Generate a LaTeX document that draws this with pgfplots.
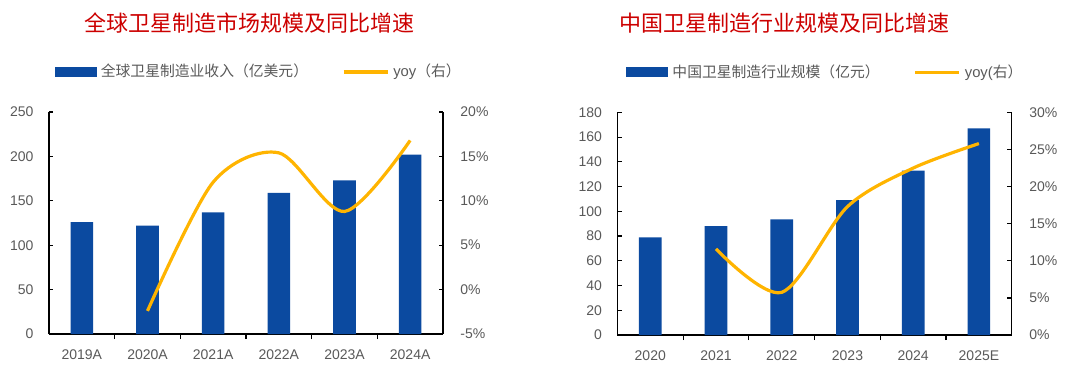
\documentclass[border=0pt]{standalone}
\usepackage{fontspec}
\setmainfont{Liberation Sans}
\newfontfamily\cjk{Noto Sans CJK SC}
\usepackage{pgfplots}
\pgfplotsset{compat=1.18}
\definecolor{barblue}{RGB}{11,74,160}
\definecolor{lineor}{RGB}{255,180,0}
\definecolor{titred}{RGB}{204,0,0}
\definecolor{tickgray}{RGB}{89,89,89}
\pgfplotsset{
  base/.style={scale only axis, xmin=-0.5, xmax=5.5, anchor=south west,
    tick label style={font=\fontsize{7}{8}\selectfont, text=tickgray},
    /pgf/number format/assume math mode=true,
    tick align=inside, major tick length=2.2pt, minor tick length=2.6pt,
    axis line style={black, line width=0.6pt}, tick style={black, line width=0.6pt},
    clip=false},
  barax/.style={base, axis x line*=bottom, axis y line*=left,
    xtick={0,...,5}, minor xtick={0.5,1.5,2.5,3.5,4.5},
    every major x tick/.append style={draw=none},
    yticklabel style={xshift=-4.2pt}, xticklabel style={yshift=-2.3pt},
    ybar, bar width=11.3pt,
    title style={anchor=center, font=\cjk\fontsize{11}{13}\selectfont, text=titred}},
  lineax/.style={base, axis y line*=right, axis x line=none,
    yticklabel={\pgfmathprintnumber{\tick}\%}, yticklabel style={xshift=5.2pt},
    legend columns=2,
    legend style={anchor=center, draw=none, fill=none, font=\cjk\fontsize{7.4}{8.5}\selectfont, text=tickgray,
      /tikz/every even column/.append style={column sep=15pt}},
    legend cell align=left},
  legbar/.style={fill=barblue, draw=none, legend image code/.code={\fill[barblue] (0pt,-2.5pt) rectangle (21pt,2.5pt);}},
  yoyline/.style={lineor, line width=1.6pt, smooth, legend image code/.code={\draw[lineor, line width=1.6pt] (0pt,0pt) -- (22pt,0pt);}},
}
\begin{document}
\begin{tikzpicture}
\path[use as bounding box] (0,0) rectangle (540pt,183pt);
% ---------- Left chart ----------
\begin{axis}[barax, at={(24.5pt,16pt)}, width=197pt, height=111pt,
  ymin=0, ymax=250, ytick={0,50,...,250},
  xticklabels={2019A,2020A,2021A,2022A,2023A,2024A},
  title={全球卫星制造市场规模及同比增速}, title style={at={(0.508,1.345)}}]
\addplot[fill=barblue, draw=none] coordinates {(0,126) (1,122) (2,137) (3,159) (4,173) (5,202)};
\end{axis}
\begin{axis}[lineax, at={(24.5pt,16pt)}, width=197pt, height=111pt,
  ymin=-5, ymax=20, ytick={-5,0,...,20},
  legend style={at={(0.535,1.18)}}]
\addlegendimage{legbar}
\addlegendentry{全球卫星制造业收入（亿美元）}
\addplot[yoyline] coordinates {(1,-2.4) (2,12.1) (3,15.4) (4,8.8) (5,16.8)};
\addlegendentry{{\fontspec{Liberation Sans}yoy}（右）}
\end{axis}
% ---------- Right chart ----------
\begin{axis}[barax, at={(308.7pt,15.5pt)}, width=197.2pt, height=111.3pt,
  ymin=0, ymax=180, ytick={0,20,...,180},
  xticklabels={2020,2021,2022,2023,2024,2025E},
  title={中国卫星制造行业规模及同比增速}, title style={at={(0.423,1.345)}}]
\addplot[fill=barblue, draw=none] coordinates {(0,79) (1,88) (2,93.5) (3,109) (4,133) (5,167)};
\end{axis}
\begin{axis}[lineax, at={(308.7pt,15.5pt)}, width=197.2pt, height=111.3pt,
  ymin=0, ymax=30, ytick={0,5,...,30},
  legend style={at={(0.53,1.18)}}]
\addlegendimage{legbar}
\addlegendentry{中国卫星制造行业规模（亿元）}
\addplot[yoyline] coordinates {(1,11.6) (2,5.75) (3,17.3) (4,22.5) (5,25.8)};
\addlegendentry{{\fontspec{Liberation Sans}yoy(}右）}
\end{axis}
\end{tikzpicture}
\end{document}
